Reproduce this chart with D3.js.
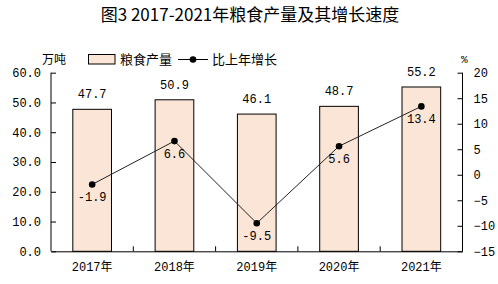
<!DOCTYPE html>
<html lang="zh">
<head>
<meta charset="utf-8">
<title>图3 2017-2021年粮食产量及其增长速度</title>
<style>
  body { margin: 0; background: #fff; }
  svg text { font-family: "Liberation Mono", "Noto Sans CJK SC", monospace; fill: #000; }
  .title { font-family: "Noto Sans CJK SC", sans-serif; font-size: 17px; font-weight: 400; }
</style>
</head>
<body>
<svg id="chart" width="498" height="284"></svg>
<script src="https://cdn.jsdelivr.net/npm/d3@7"></script>
<script>
// data
var years = ["2017年", "2018年", "2019年", "2020年", "2021年"];
var output = [47.7, 50.9, 46.1, 48.7, 55.2];   // 万吨
var growth = [-1.9, 6.6, -9.5, 5.6, 13.4];     // %
var leftTicks = [0, 10, 20, 30, 40, 50, 60];
var rightTicks = [-15, -10, -5, 0, 5, 10, 15, 20];

var svg = d3.select("#chart");
var plotLeft = 51, plotRight = 462.5, plotTop = 72.7, plotBottom = 251.3;

var x = d3.scaleBand().domain(years).range([plotLeft, plotRight]).padding(0);
var yL = d3.scaleLinear().domain([0, 60]).range([plotBottom, plotTop]);
var yR = d3.scaleLinear().domain([-15, 20]).range([plotBottom, plotTop]);
var barW = x.bandwidth() * 0.47;
function cx(i) { return x(years[i]) + x.bandwidth() / 2; }

svg.append("text").attr("class", "title")
    .attr("x", 250).attr("y", 21).attr("text-anchor", "middle")
    .text("图3 2017-2021年粮食产量及其增长速度");

// bars
svg.append("g").selectAll("rect")
    .data(output)
    .enter().append("rect")
    .attr("x", function(d, i) { return cx(i) - barW / 2; })
    .attr("y", function(d) { return yL(d); })
    .attr("width", barW)
    .attr("height", function(d) { return plotBottom - yL(d); })
    .attr("fill", "#fbe5d6")
    .attr("stroke", "#000")
    .attr("stroke-width", 1);

svg.append("g").selectAll("text")
    .data(output)
    .enter().append("text")
    .attr("x", function(d, i) { return cx(i); })
    .attr("y", function(d) { return yL(d) - 11; })
    .attr("text-anchor", "middle")
    .style("font-size", "12px")
    .text(function(d) { return d.toFixed(1); });

// axes
var axL = d3.axisLeft(yL).tickValues(leftTicks).tickSize(-5).tickPadding(10)
    .tickFormat(d3.format(".1f"));
var axR = d3.axisRight(yR).tickValues(rightTicks).tickSize(-5).tickPadding(11);
var axB = d3.axisBottom(x).tickSize(0).tickPadding(11);

function styleAxis(g) {
  g.select(".domain").attr("stroke", "#000");
  g.selectAll(".tick line").attr("stroke", "#000");
  g.selectAll("text").style("font-size", "12px")
    .style("font-family", "\"Liberation Mono\", \"Noto Sans CJK SC\", monospace");
}

svg.append("g").attr("transform", "translate(" + plotLeft + ",0)").call(axL).call(styleAxis)
    .select(".domain").attr("d", "M0," + plotTop + "V" + plotBottom);
svg.append("g").attr("transform", "translate(" + plotRight + ",0)").call(axR).call(styleAxis)
    .select(".domain").attr("d", "M0," + plotTop + "V" + plotBottom);
svg.append("g").attr("transform", "translate(0," + plotBottom + ")").call(axB).call(styleAxis);

// category boundary ticks
svg.append("g").selectAll("line")
    .data(years.slice(1))
    .enter().append("line")
    .attr("x1", function(d) { return x(d); })
    .attr("x2", function(d) { return x(d); })
    .attr("y1", plotBottom).attr("y2", plotBottom - 5)
    .attr("stroke", "#000");

// growth line
var line = d3.line()
    .x(function(d, i) { return cx(i); })
    .y(function(d) { return yR(d); });

svg.append("path").datum(growth)
    .attr("d", line)
    .attr("fill", "none")
    .attr("stroke", "#222")
    .attr("stroke-width", 1);

svg.append("g").selectAll("circle")
    .data(growth)
    .enter().append("circle")
    .attr("cx", function(d, i) { return cx(i); })
    .attr("cy", function(d) { return yR(d); })
    .attr("r", 3.3)
    .attr("fill", "#000");

svg.append("g").selectAll("text")
    .data(growth)
    .enter().append("text")
    .attr("x", function(d, i) { return cx(i); })
    .attr("y", function(d) { return yR(d) + 17; })
    .attr("text-anchor", "middle")
    .style("font-size", "12px")
    .text(function(d) { return d.toFixed(1); });

// units and legend
svg.append("text").attr("x", 42).attr("y", 64).style("font-size", "12px").text("万吨");
svg.append("text").attr("x", 461).attr("y", 63).style("font-size", "11px").text("%");

svg.append("rect").attr("x", 88.5).attr("y", 54.5).attr("width", 26.5).attr("height", 9.5)
    .attr("fill", "#fbe5d6").attr("stroke", "#000");
svg.append("text").attr("x", 120).attr("y", 64).style("font-size", "13px").text("粮食产量");

svg.append("line").attr("x1", 178).attr("x2", 208).attr("y1", 59.5).attr("y2", 59.5)
    .attr("stroke", "#000");
svg.append("circle").attr("cx", 193).attr("cy", 59.5).attr("r", 3.3).attr("fill", "#000");
svg.append("text").attr("x", 212).attr("y", 64).style("font-size", "13px").text("比上年增长");
</script>
</body>
</html>
